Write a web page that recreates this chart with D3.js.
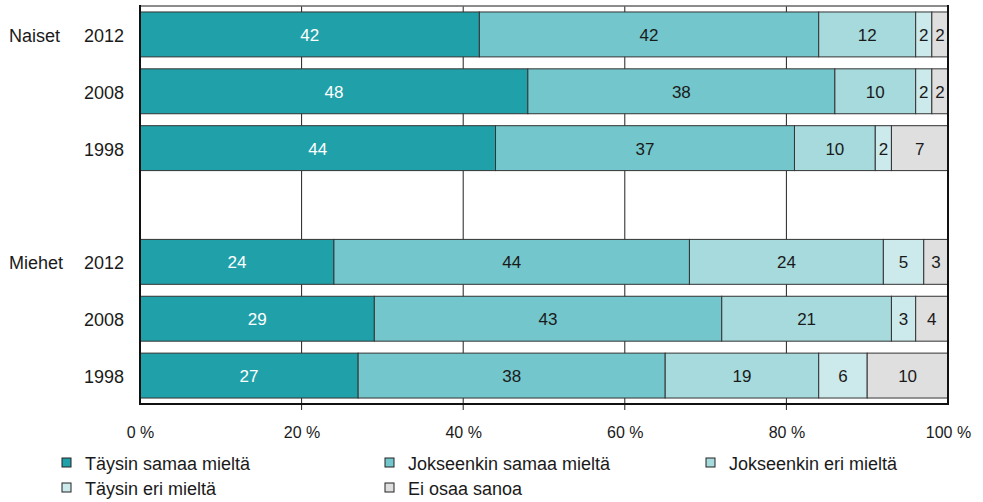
<!DOCTYPE html>
<html><head><meta charset="utf-8">
<script src="https://cdn.jsdelivr.net/npm/d3@7"></script>
<style>body{margin:0;background:#fff;}svg{display:block;font-family:Arial,"Liberation Sans",sans-serif;}</style>
</head><body><svg id="c" width="983" height="502"></svg>
<script>
const groups = ["Naiset","Naiset","Naiset","","Miehet","Miehet","Miehet"];
const years = ["2012","2008","1998","","2012","2008","1998"];
const seriesNames = ["Täysin samaa mieltä","Jokseenkin samaa mieltä","Jokseenkin eri mieltä","Täysin eri mieltä","Ei osaa sanoa"];
const tayssinSamaa = [42,48,44,null,24,29,27];
const jokseenkinSamaa = [42,38,37,null,44,43,38];
const jokseenkinEri = [12,10,10,null,24,21,19];
const taysinEri = [2,2,2,null,5,3,6];
const eiOsaa = [2,2,7,null,3,4,10];
const tickValues = [0,20,40,60,80,100];
const colors = ["#20A1A9","#73C6CB","#A6DADD","#CCE9EB","#DFDFDF"];
const textColors = ["#fff","#1a1a1a","#1a1a1a","#1a1a1a","#1a1a1a"];

const svg = d3.select("#c");
const L=140, R=948, T=6, B=404;
const x = d3.scaleLinear().domain([0,100]).range([L,R]);
const y = d3.scaleBand().domain(d3.range(7)).range([T,B]).paddingInner(0.21).paddingOuter(0.105);

// gridlines
svg.append("g").selectAll("line").data([20,40,60,80]).join("line")
  .attr("x1",d=>x(d)).attr("x2",d=>x(d)).attr("y1",T).attr("y2",B+6)
  .attr("stroke","#222").attr("stroke-width",1);

const series=[tayssinSamaa,jokseenkinSamaa,jokseenkinEri,taysinEri,eiOsaa];
const rows = d3.range(7).filter(i=>tayssinSamaa[i]!=null).map(i=>{
  let c=0; return {i, segs: series.map((s,k)=>{const v=s[i]; const o={k,v,x0:c,x1:c+v}; c+=v; return o;})};
});
const g = svg.append("g");
rows.forEach(r=>{
  r.segs.forEach(s=>{
    g.append("rect").attr("x",x(s.x0)).attr("y",y(r.i)).attr("width",x(s.x1)-x(s.x0)).attr("height",y.bandwidth())
      .attr("fill",colors[s.k]).attr("stroke","#333").attr("stroke-width",1);
    g.append("text").attr("x",(x(s.x0)+x(s.x1))/2).attr("y",y(r.i)+y.bandwidth()/2).attr("dy","0.38em")
      .attr("text-anchor","middle").attr("font-size",17).attr("fill",textColors[s.k]).text(s.v);
  });
});

// frame
svg.append("line").attr("x1",L).attr("x2",R).attr("y1",T).attr("y2",T).attr("stroke","#666").attr("stroke-width",1.5);
svg.append("line").attr("x1",L).attr("x2",L).attr("y1",T-1).attr("y2",B+1).attr("stroke","#111").attr("stroke-width",2);
svg.append("line").attr("x1",R).attr("x2",R).attr("y1",T-1).attr("y2",B+1).attr("stroke","#111").attr("stroke-width",2);
svg.append("line").attr("x1",L).attr("x2",R).attr("y1",B).attr("y2",B).attr("stroke","#111").attr("stroke-width",2);

// x axis labels
const xa = svg.append("g").attr("transform",`translate(0,${B})`).call(d3.axisBottom(x).tickValues(tickValues).tickSize(0).tickFormat(d=>d+" %"));
xa.select(".domain").remove();
xa.selectAll("text").attr("font-size",16).attr("fill","#1a1a1a").attr("font-family","Arial,'Liberation Sans',sans-serif").attr("dy","0").attr("y",34);

// y labels
const yl = svg.append("g");
d3.range(7).forEach(i=>{
  if(!years[i]) return;
  yl.append("text").attr("x",124).attr("y",y(i)+y.bandwidth()/2).attr("dy","0.42em").attr("text-anchor","end").attr("font-size",18).attr("fill","#1a1a1a").text(years[i]);
  if(i===0||groups[i]!==groups[i-1]) yl.append("text").attr("x",9).attr("y",y(i)+y.bandwidth()/2).attr("dy","0.42em").attr("font-size",18).attr("fill","#1a1a1a").text(groups[i]);
});

// legend
const legPos=[[66,464],[389,464],[710,464],[66,489],[389,489]];
const lg=svg.append("g");
seriesNames.forEach((n,k)=>{
  const [lx,ly]=legPos[k];
  lg.append("rect").attr("x",lx-4).attr("y",ly-6).attr("width",9).attr("height",9).attr("fill",colors[k]).attr("stroke","#222").attr("stroke-width",1);
  lg.append("text").attr("x",lx+19).attr("y",ly).attr("dy","0.35em").attr("font-size",18).attr("fill","#1a1a1a").text(n);
});
</script></body></html>
